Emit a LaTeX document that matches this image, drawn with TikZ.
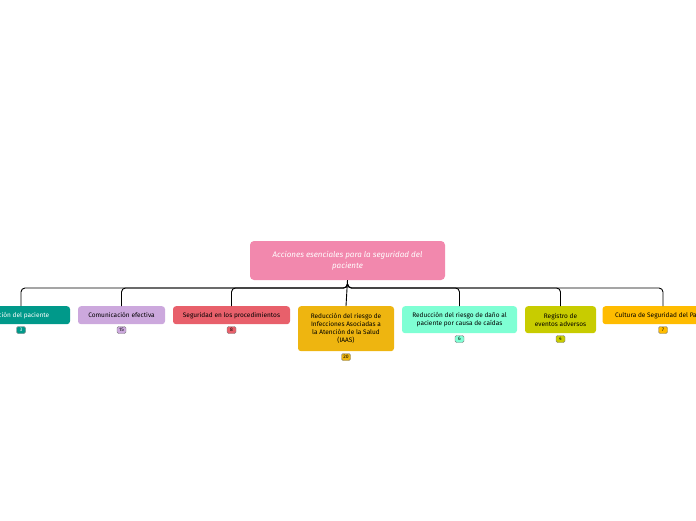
\documentclass[tikz,border=0pt]{standalone}
\usepackage{fontspec}
\setmainfont{Fira Sans}
\begin{document}
\begin{tikzpicture}[x=1pt,y=-1pt,
 box/.style={rounded corners=3pt,align=center,font=\fontsize{6.5}{8}\selectfont,inner sep=2pt,anchor=north},
 badge/.style={draw=black!50,rounded corners=1.5pt,font=\fontsize{5}{5}\selectfont,inner sep=1pt,minimum width=9pt,minimum height=7pt},
 conn/.style={draw=black,line width=0.9pt,rounded corners=4pt}]
\useasboundingbox (0,0) rectangle (696,520);
\clip (0,0) rectangle (696,520);
\definecolor{cpink}{HTML}{F288AD}
\definecolor{cteal}{HTML}{00998A}
\definecolor{clil}{HTML}{CCA8DD}
\definecolor{cred}{HTML}{E8606B}
\definecolor{cgold}{HTML}{EEB510}
\definecolor{cmint}{HTML}{7FFFD4}
\definecolor{colive}{HTML}{C8CC00}
\definecolor{corange}{HTML}{FFBC00}
\node[fill=cpink,rounded corners=4pt,minimum width=195pt,minimum height=39pt,text=white,align=center,font=\itshape\fontsize{8}{11}\selectfont] (root) at (347.5,260.5) {Acciones esenciales para la seguridad del\\paciente};
\node[box,fill=cteal,text=white,minimum width=120pt,minimum height=18pt] (c1) at (10,306) {Identificación del paciente};
\node[box,fill=clil,minimum width=87pt,minimum height=18pt] (c2) at (121.5,306) {Comunicación efectiva};
\node[box,fill=cred,minimum width=117pt,minimum height=18pt] (c3) at (231.5,306) {Seguridad en los procedimientos};
\node[box,fill=cgold,minimum width=96pt,minimum height=45pt] (c4) at (346,306) {Reducción del riesgo de\\Infecciones Asociadas a\\la Atención de la Salud\\(IAAS)};
\node[box,fill=cmint,minimum width=115pt,minimum height=27pt] (c5) at (459.5,306) {Reducción del riesgo de daño al\\paciente por causa de caídas};
\node[box,fill=colive,minimum width=71pt,minimum height=27pt] (c6) at (560.5,306) {Registro de\\eventos adversos};
\node[box,fill=corange,minimum width=125pt,minimum height=18pt] (c7) at (665,306) {Cultura de Seguridad del Paciente};
\coordinate (bus) at (347.5,288);
\foreach \c/\x in {c1/21,c2/121.5,c3/231.5,c5/459.5,c6/560.5,c7/663}
  \draw[conn] (root.south) -- (bus) -| (\x,306);
\draw[conn] (root.south) -- (c4.north);
\node[badge,fill=cteal,text=white] (b1) at (21,330) {3};
\node[badge,fill=clil] (b2) at (121.5,330) {15};
\node[badge,fill=cred] (b3) at (231.5,330) {8};
\node[badge,fill=cgold] (b4) at (346,357) {20};
\node[badge,fill=cmint] (b5) at (459.5,339) {6};
\node[badge,fill=colive] (b6) at (560.5,339) {4};
\node[badge,fill=corange] (b7) at (663,330) {7};
\end{tikzpicture}
\end{document}
